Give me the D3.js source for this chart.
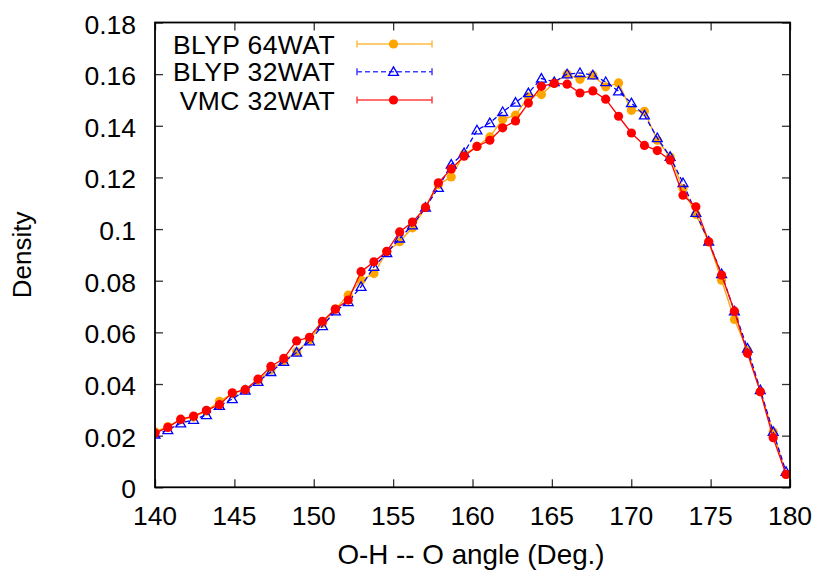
<!DOCTYPE html>
<html>
<head>
<meta charset="utf-8">
<script src="https://cdn.jsdelivr.net/npm/d3@7/dist/d3.min.js"></script>
<style>
  html, body { margin: 0; padding: 0; background: #fff; }
  svg { display: block; }
  text { font-family: "Liberation Sans", Arial, Helvetica, sans-serif; fill: #000; }
</style>
</head>
<body>
<svg id="chart" width="818" height="571"></svg>
<script>
// ---- data ----
const angles = [140.00,140.81,141.62,142.43,143.24,144.06,144.87,145.68,146.49,147.30,
                148.11,148.92,149.73,150.55,151.36,152.17,152.98,153.79,154.60,155.41,
                156.22,157.04,157.85,158.66,159.47,160.28,161.09,161.90,162.71,163.52,
                164.34,165.15,165.96,166.77,167.58,168.39,169.20,170.01,170.83,171.64,
                172.45,173.26,174.07,174.88,175.69,176.50,177.32,178.13,178.94,179.75];

const blyp64 = [0.0215,0.0235,0.0262,0.0272,0.0295,0.0333,0.0362,0.0378,0.0415,0.0455,
                0.0490,0.0525,0.0570,0.0635,0.0690,0.0744,0.0802,0.0828,0.0912,0.0951,
                0.1005,0.1084,0.1172,0.1202,0.1290,0.1320,0.1357,0.1425,0.1441,0.1512,
                0.1521,0.1566,0.1600,0.1580,0.1596,0.1551,0.1566,0.1460,0.1456,0.1344,
                0.1280,0.1157,0.1057,0.0950,0.0802,0.0650,0.0531,0.0370,0.0215,0.0050];

const blyp32 = [0.0205,0.0222,0.0248,0.0262,0.0280,0.0316,0.0342,0.0375,0.0409,0.0447,
                0.0486,0.0522,0.0566,0.0625,0.0682,0.0718,0.0777,0.0854,0.0908,0.0964,
                0.1015,0.1084,0.1160,0.1250,0.1295,0.1383,0.1411,0.1454,0.1490,0.1527,
                0.1583,0.1570,0.1600,0.1605,0.1596,0.1570,0.1534,0.1488,0.1441,0.1353,
                0.1280,0.1179,0.1063,0.0952,0.0826,0.0682,0.0538,0.0377,0.0215,0.0060];

const vmc32  = [0.0210,0.0232,0.0264,0.0276,0.0298,0.0320,0.0366,0.0378,0.0419,0.0468,
                0.0499,0.0567,0.0581,0.0643,0.0690,0.0725,0.0835,0.0873,0.0914,0.0989,
                0.1027,0.1084,0.1179,0.1233,0.1282,0.1320,0.1344,0.1392,0.1419,0.1488,
                0.1553,0.1564,0.1561,0.1527,0.1535,0.1503,0.1437,0.1372,0.1324,0.1304,
                0.1267,0.1131,0.1086,0.0951,0.0822,0.0682,0.0519,0.0370,0.0192,0.0050];

const seriesNames = ["BLYP 64WAT", "BLYP 32WAT", "VMC 32WAT"];
const xTicks = [140,145,150,155,160,165,170,175,180];
const yTicks = [0,0.02,0.04,0.06,0.08,0.1,0.12,0.14,0.16,0.18];
const xTitle = "O-H -- O angle (Deg.)";
const yTitle = "Density";

// ---- layout ----
const L = 155, R = 790, T = 22.5, B = 487.3;
const svg = d3.select("#chart");
const x = d3.scaleLinear().domain([140,180]).range([L,R]);
const y = d3.scaleLinear().domain([0,0.18]).range([B,T]);

const styles = [
  {data: blyp64, color: "#FFA500", dash: null, marker: "circle"},
  {data: blyp32, color: "#0000FF", dash: "5,3", marker: "triangle"},
  {data: vmc32,  color: "#FF0000", dash: null, marker: "circle"}
];

// ---- axes (ticks inward, mirrored) ----
const tickLen = 8;
const bottomAxis = d3.axisBottom(x).tickValues(xTicks).tickSize(-tickLen).tickFormat("");
const topAxis = d3.axisTop(x).tickValues(xTicks).tickSize(-tickLen).tickFormat("");
const leftAxis = d3.axisLeft(y).tickValues(yTicks).tickSize(-tickLen).tickFormat("");
const rightAxis = d3.axisRight(y).tickValues(yTicks).tickSize(-tickLen).tickFormat("");
function styleAxis(g){ g.select(".domain").remove(); g.selectAll(".tick line").attr("stroke","#333").attr("stroke-width",1.3); }
svg.append("g").attr("transform",`translate(0,${B})`).call(bottomAxis).call(styleAxis);
svg.append("g").attr("transform",`translate(0,${T})`).call(topAxis).call(styleAxis);
svg.append("g").attr("transform",`translate(${L},0)`).call(leftAxis).call(styleAxis);
svg.append("g").attr("transform",`translate(${R},0)`).call(rightAxis).call(styleAxis);

// tick labels
svg.append("g").selectAll("text").data(xTicks).join("text")
  .attr("x", d => x(d)).attr("y", 524.5).attr("text-anchor","middle")
  .attr("font-size", 26.5).text(d => d);
svg.append("g").selectAll("text").data(yTicks).join("text")
  .attr("x", 136).attr("y", d => y(d) + 11).attr("text-anchor","end")
  .attr("font-size", 26.5).text(d => d3.format("")(d));

// titles
svg.append("text").attr("x", 471).attr("y", 564).attr("text-anchor","middle")
  .attr("font-size", 27.8).text(xTitle);
svg.append("text").attr("transform", `translate(31,${(T+B)/2}) rotate(-90)`)
  .attr("text-anchor","middle").attr("font-size", 26).text(yTitle);

// ---- clip ----
svg.append("clipPath").attr("id","plotclip").append("rect")
  .attr("x", L).attr("y", T).attr("width", R-L).attr("height", B-T);
const plot = svg.append("g").attr("clip-path","url(#plotclip)");

const line = d3.line().x((d,i) => x(angles[i])).y(d => y(d));
const tri = d3.symbol().type(d3.symbolTriangle).size(42);

function drawMarker(g, s, cx, cy){
  if (s.marker === "circle") {
    g.append("circle").attr("cx", cx).attr("cy", cy).attr("r", 4.6).attr("fill", s.color);
  } else {
    g.append("path").attr("d", tri()).attr("transform", `translate(${cx},${cy+0.8})`)
      .attr("fill","none").attr("stroke", s.color).attr("stroke-width", 1.3);
  }
}

styles.forEach(s => {
  const g = plot.append("g");
  g.append("path").datum(s.data).attr("d", line).attr("fill","none")
    .attr("stroke", s.color).attr("stroke-width", 1.3)
    .attr("stroke-dasharray", s.dash);
  s.data.forEach((v,i) => drawMarker(g, s, x(angles[i]), y(v)));
});

// ---- frame ----
svg.append("rect").attr("x", L).attr("y", T).attr("width", R-L).attr("height", B-T)
  .attr("fill","none").attr("stroke","#000").attr("stroke-width", 1.8);

// ---- legend ----
const legY = [44, 71.7, 100];
const lg = svg.append("g");
styles.forEach((s,i) => {
  const yy = legY[i];
  lg.append("text").attr("x", 335).attr("y", yy + 9.5).attr("text-anchor","end")
    .attr("font-size", 26.5).attr("letter-spacing", 0.4).text(seriesNames[i]);
  const g = lg.append("g").attr("opacity", 0.75);
  g.append("line").attr("x1", 357).attr("x2", 432).attr("y1", yy).attr("y2", yy)
    .attr("stroke", s.color).attr("stroke-width", 1.5).attr("stroke-dasharray", s.dash);
  [357, 432].forEach(cx => g.append("line").attr("x1", cx).attr("x2", cx)
    .attr("y1", yy-3.5).attr("y2", yy+3.5).attr("stroke", s.color).attr("stroke-width", 1.5));
  drawMarker(lg, s, 393.5, yy);
});
</script>
</body>
</html>
